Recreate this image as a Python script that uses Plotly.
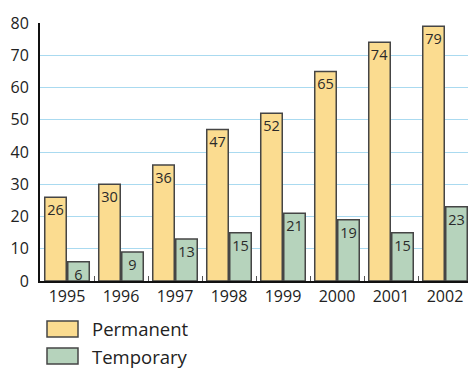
import plotly.graph_objects as go

years = ["1995", "1996", "1997", "1998", "1999", "2000", "2001", "2002"]
permanent = [26, 30, 36, 47, 52, 65, 74, 79]
temporary = [6, 9, 13, 15, 21, 19, 15, 23]
y_ticks = [0, 10, 20, 30, 40, 50, 60, 70, 80]
series_names = ["Permanent", "Temporary"]

c_perm = "#FBDC90"
c_temp = "#B6D3BC"
outline = "#454545"
font_family = "Open Sans, Lato, DejaVu Sans, sans-serif"

fig = go.Figure()
for name, vals, col in [(series_names[0], permanent, c_perm), (series_names[1], temporary, c_temp)]:
    fig.add_trace(go.Bar(
        x=years, y=vals, name=name,
        marker=dict(color=col, line=dict(color=outline, width=1.5)),
        text=[str(v) for v in vals],
        textposition="inside", insidetextanchor="end",
        textfont=dict(family=font_family, size=14.5, color="#2a2a2a"),
        constraintext="none", textangle=0,
        showlegend=False, hoverinfo="skip",
    ))

fig.update_layout(
    width=468, height=369,
    margin=dict(l=40, r=0, t=23, b=88),
    paper_bgcolor="white", plot_bgcolor="white",
    barmode="group", bargap=0.148, bargroupgap=0.065,
    font=dict(family=font_family, color="#222", size=16),
    xaxis=dict(
        type="category", range=[-0.5, 7.426],
        showline=True, linecolor="#111", linewidth=2,
        ticks="inside", tickson="boundaries", ticklen=5, tickcolor="#555", tickwidth=1,
        showgrid=False, tickfont=dict(size=16, color="#222"),
    ),
    yaxis=dict(
        range=[0, 80], tickvals=y_ticks,
        showline=True, linecolor="#111", linewidth=2,
        showgrid=True, gridcolor="#AADAF0", gridwidth=1.2,
        zeroline=False, ticks="", ticklabelstandoff=6,
        tickfont=dict(size=16, color="#222"),
    ),
)

# legend drawn as swatches + labels below the plot
legend_rows = [(series_names[0], c_perm, 329), (series_names[1], c_temp, 356)]
for name, col, yc in legend_rows:
    fig.add_shape(type="rect", xref="paper", yref="paper",
                  x0=(47 - 40) / 428, x1=(78 - 40) / 428,
                  y0=(281 - (yc + 8)) / 258, y1=(281 - (yc - 8)) / 258,
                  fillcolor=col, line=dict(color=outline, width=1.5))
    fig.add_annotation(xref="paper", yref="paper", x=(90 - 40) / 428, y=(281 - yc) / 258,
                       text=name, showarrow=False, xanchor="left", yanchor="middle",
                       font=dict(size=18.5, color="#222", family=font_family))

fig.write_html("out.html")
